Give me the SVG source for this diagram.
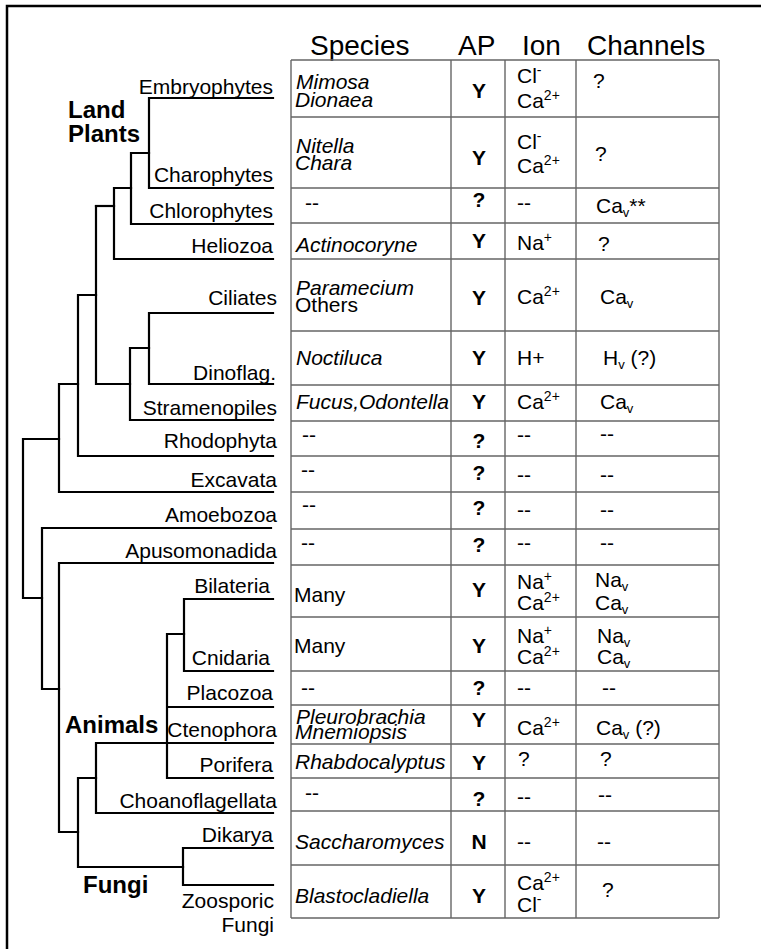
<svg xmlns="http://www.w3.org/2000/svg" width="761" height="949" viewBox="0 0 761 949">
<style>
text{font-family:"Liberation Sans",Arial,sans-serif;font-size:21px;fill:#000}
.lbl{text-anchor:end}
.grp{font-weight:bold;font-size:24px}
.hd{font-size:28px}
.sp{font-style:italic}
.ap{font-weight:bold;text-anchor:middle}
.sup{font-size:14px}
.sub{font-size:13px}
.tree{fill:none;stroke:#000;stroke-width:2.2;stroke-linecap:square;stroke-linejoin:miter}
.grid{stroke:#666;stroke-width:1.4}
</style>
<rect x="0" y="0" width="761" height="949" fill="#fff"/>
<path d="M7,960 V6 H770" fill="none" stroke="#000" stroke-width="2.5"/>

<g id="headers">
<text class="hd" x="310" y="55">Species</text>
<text class="hd" x="458" y="55">AP</text>
<text class="hd" x="522" y="55">Ion</text>
<text class="hd" x="587" y="55">Channels</text>
</g>

<g id="table-grid" class="grid">
<path d="M291,60 V918 M451,60 V918 M505,60 V918 M576,60 V918 M719,60 V918"/>
<path d="M291,60 H719 M291,117 H719 M291,188 H719 M291,223 H719 M291,259 H719 M291,331 H719 M291,385 H719 M291,421 H719 M291,456 H719 M291,492 H719 M291,529 H719 M291,565 H719 M291,617 H719 M291,671 H719 M291,705 H719 M291,744 H719 M291,778 H719 M291,811 H719 M291,865 H719 M291,918 H719"/>
</g>

<g id="connectors" class="tree">
<path d="M149,98 H273 M149,188 H273 M149,98 V188"/>
<path d="M131,153 H149 M131,224 H273 M131,153 V224"/>
<path d="M114,188 H131 M114,259 H273 M114,188 V259"/>
<path d="M96,206 H114"/>
<path d="M149,313 H273 M149,384 H273 M149,313 V384"/>
<path d="M130,348 H149 M130,420 H273 M130,348 V420"/>
<path d="M96,384 H130 M96,206 V384"/>
<path d="M78,295 H96 M78,456 H273 M78,295 V456"/>
<path d="M59,384 H78 M59,492 H273 M59,384 V492"/>
<path d="M23,439 H59 M23,439 V598 M23,598 H42"/>
<path d="M42,528 H271 M42,528 V689 M42,689 H59"/>
<path d="M59,563 H273 M59,563 V832 M59,832 H78"/>
<path d="M184,599 H273 M184,671 H273 M184,599 V671"/>
<path d="M167,634 H184 M167,707 H273 M167,778 H273 M167,634 V778"/>
<path d="M96,743 H273 M96,813 H273 M96,743 V813"/>
<path d="M78,778 H96 M78,778 V867 M78,867 H183"/>
<path d="M183,848 H273 M183,885 H273 M183,848 V885"/>
</g>

<g id="group-labels">
<text class="grp" x="68" y="118">Land</text>
<text class="grp" x="68" y="142">Plants</text>
<text class="grp" x="65" y="733">Animals</text>
<text class="grp" x="83" y="893">Fungi</text>
</g>

<g id="node-embryophytes"><text class="lbl" x="273" y="94">Embryophytes</text></g>
<g id="node-charophytes"><text class="lbl" x="273" y="182">Charophytes</text></g>
<g id="node-chlorophytes"><text class="lbl" x="273" y="218">Chlorophytes</text></g>
<g id="node-heliozoa"><text class="lbl" x="273" y="253">Heliozoa</text></g>
<g id="node-ciliates"><text class="lbl" x="277" y="305">Ciliates</text></g>
<g id="node-dinoflag"><text class="lbl" x="276" y="380">Dinoflag.</text></g>
<g id="node-stramenopiles"><text class="lbl" x="277" y="415">Stramenopiles</text></g>
<g id="node-rhodophyta"><text class="lbl" x="277" y="448">Rhodophyta</text></g>
<g id="node-excavata"><text class="lbl" x="277" y="487">Excavata</text></g>
<g id="node-amoebozoa"><text class="lbl" x="277" y="522">Amoebozoa</text></g>
<g id="node-apusomonadida"><text class="lbl" x="277" y="558">Apusomonadida</text></g>
<g id="node-bilateria"><text class="lbl" x="270" y="593">Bilateria</text></g>
<g id="node-cnidaria"><text class="lbl" x="270" y="665">Cnidaria</text></g>
<g id="node-placozoa"><text class="lbl" x="273" y="700">Placozoa</text></g>
<g id="node-ctenophora"><text class="lbl" x="277" y="737">Ctenophora</text></g>
<g id="node-porifera"><text class="lbl" x="273" y="772">Porifera</text></g>
<g id="node-choanoflagellata"><text class="lbl" x="277" y="808">Choanoflagellata</text></g>
<g id="node-dikarya"><text class="lbl" x="273" y="842">Dikarya</text></g>
<g id="node-zoosporic"><text class="lbl" x="274" y="908">Zoosporic</text><text class="lbl" x="274" y="932">Fungi</text></g>

<g id="row-1">
<text class="sp" x="296" y="89">Mimosa</text>
<text class="sp" x="295" y="107">Dionaea</text>
<text class="ap" x="479" y="98">Y</text>
<text x="517" y="83">Cl<tspan class="sup" dy="-8">-</tspan></text>
<text x="517" y="108">Ca<tspan class="sup" dy="-8">2+</tspan></text>
<text x="593" y="88">?</text>
</g>
<g id="row-2">
<text class="sp" x="296" y="153">Nitella</text>
<text class="sp" x="295" y="170">Chara</text>
<text class="ap" x="479" y="165">Y</text>
<text x="517" y="149">Cl<tspan class="sup" dy="-8">-</tspan></text>
<text x="517" y="173">Ca<tspan class="sup" dy="-8">2+</tspan></text>
<text x="595" y="161">?</text>
</g>
<g id="row-3">
<text x="305" y="210">--</text>
<text class="ap" x="479" y="207">?</text>
<text x="517" y="210">--</text>
<text x="596" y="213">Ca<tspan class="sub" dy="4">v</tspan><tspan dy="-4">**</tspan></text>
</g>
<g id="row-4">
<text class="sp" x="296" y="252">Actinocoryne</text>
<text class="ap" x="479" y="248">Y</text>
<text x="517" y="250">Na<tspan class="sup" dy="-8">+</tspan></text>
<text x="598" y="251">?</text>
</g>
<g id="row-5">
<text class="sp" x="296" y="295">Paramecium</text>
<text x="295" y="312">Others</text>
<text class="ap" x="479" y="305">Y</text>
<text x="517" y="304">Ca<tspan class="sup" dy="-8">2+</tspan></text>
<text x="600" y="304">Ca<tspan class="sub" dy="4">v</tspan></text>
</g>
<g id="row-6">
<text class="sp" x="296" y="365">Noctiluca</text>
<text class="ap" x="479" y="365">Y</text>
<text x="517" y="365">H+</text>
<text x="603" y="365">H<tspan class="sub" dy="4">v</tspan><tspan dy="-4"> (?)</tspan></text>
</g>
<g id="row-7">
<text class="sp" x="296" y="409">Fucus,Odontella</text>
<text class="ap" x="479" y="409">Y</text>
<text x="517" y="409">Ca<tspan class="sup" dy="-8">2+</tspan></text>
<text x="600" y="409">Ca<tspan class="sub" dy="4">v</tspan></text>
</g>
<g id="row-8">
<text x="302" y="442">--</text>
<text class="ap" x="479" y="448">?</text>
<text x="517" y="442">--</text>
<text x="600" y="441">--</text>
</g>
<g id="row-9">
<text x="301" y="477">--</text>
<text class="ap" x="479" y="480">?</text>
<text x="517" y="482">--</text>
<text x="600" y="482">--</text>
</g>
<g id="row-10">
<text x="302" y="512">--</text>
<text class="ap" x="479" y="515">?</text>
<text x="517" y="517">--</text>
<text x="600" y="517">--</text>
</g>
<g id="row-11">
<text x="301" y="550">--</text>
<text class="ap" x="479" y="552">?</text>
<text x="517" y="550">--</text>
<text x="600" y="550">--</text>
</g>
<g id="row-12">
<text x="294" y="602">Many</text>
<text class="ap" x="479" y="597">Y</text>
<text x="517" y="589">Na<tspan class="sup" dy="-8">+</tspan></text>
<text x="517" y="610">Ca<tspan class="sup" dy="-8">2+</tspan></text>
<text x="595" y="587">Na<tspan class="sub" dy="4">v</tspan></text>
<text x="595" y="610">Ca<tspan class="sub" dy="4">v</tspan></text>
</g>
<g id="row-13">
<text x="294" y="653">Many</text>
<text class="ap" x="479" y="653">Y</text>
<text x="517" y="643">Na<tspan class="sup" dy="-8">+</tspan></text>
<text x="517" y="664">Ca<tspan class="sup" dy="-8">2+</tspan></text>
<text x="597" y="643">Na<tspan class="sub" dy="4">v</tspan></text>
<text x="597" y="664">Ca<tspan class="sub" dy="4">v</tspan></text>
</g>
<g id="row-14">
<text x="301" y="695">--</text>
<text class="ap" x="479" y="695">?</text>
<text x="517" y="695">--</text>
<text x="602" y="695">--</text>
</g>
<g id="row-15">
<text class="sp" x="296" y="724">Pleurobrachia</text>
<text class="sp" x="295" y="739">Mnemiopsis</text>
<text class="ap" x="479" y="727">Y</text>
<text x="517" y="735">Ca<tspan class="sup" dy="-8">2+</tspan></text>
<text x="596" y="735">Ca<tspan class="sub" dy="4">v</tspan><tspan dy="-4"> (?)</tspan></text>
</g>
<g id="row-16">
<text class="sp" x="295" y="769">Rhabdocalyptus</text>
<text class="ap" x="479" y="770">Y</text>
<text x="518" y="766">?</text>
<text x="600" y="766">?</text>
</g>
<g id="row-17">
<text x="305" y="800">--</text>
<text class="ap" x="479" y="806">?</text>
<text x="517" y="804">--</text>
<text x="598" y="802">--</text>
</g>
<g id="row-18">
<text class="sp" x="295" y="849">Saccharomyces</text>
<text class="ap" x="479" y="849">N</text>
<text x="517" y="849">--</text>
<text x="597" y="849">--</text>
</g>
<g id="row-19">
<text class="sp" x="295" y="903">Blastocladiella</text>
<text class="ap" x="479" y="903">Y</text>
<text x="517" y="890">Ca<tspan class="sup" dy="-8">2+</tspan></text>
<text x="517" y="912">Cl<tspan class="sup" dy="-8">-</tspan></text>
<text x="602" y="897">?</text>
</g>
</svg>
